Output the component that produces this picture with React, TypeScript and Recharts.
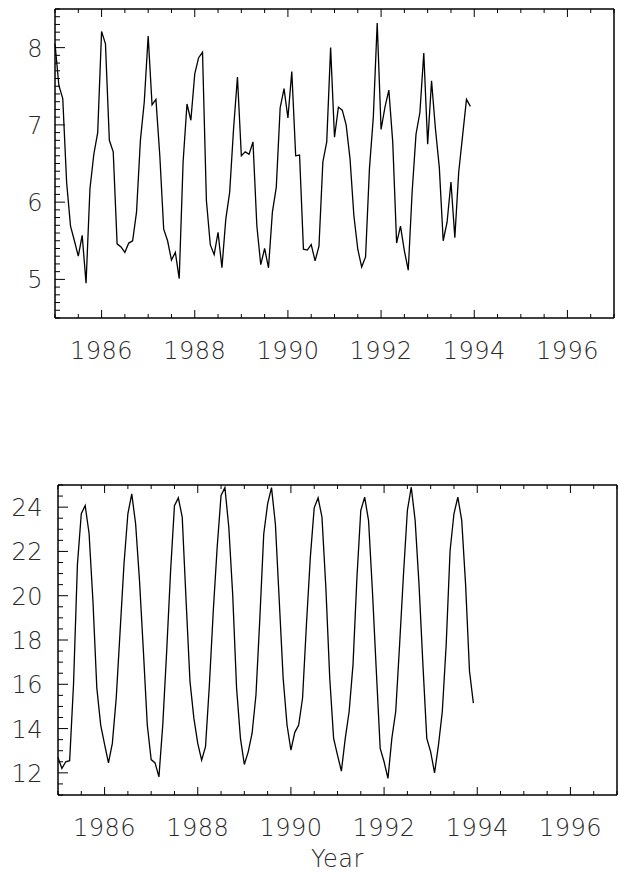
import { Line, LineChart, XAxis, YAxis } from 'recharts';

// monthly series, Jan 1985 .. Dec 1993
const startYear = 1985;

const upperValues = [
  8.05, 7.51, 7.34, 6.25, 5.69, 5.5, 5.3, 5.57, 4.95, 6.17, 6.62, 6.9,
  8.21, 8.05, 6.8, 6.65, 5.46, 5.42, 5.35, 5.47, 5.5, 5.87, 6.8, 7.3,
  8.15, 7.26, 7.33, 6.6, 5.65, 5.5, 5.25, 5.35, 5.01, 6.52, 7.27, 7.06,
  7.66, 7.87, 7.94, 6.02, 5.45, 5.32, 5.61, 5.15, 5.78, 6.13, 6.95, 7.62,
  6.6, 6.65, 6.62, 6.78, 5.69, 5.19, 5.4, 5.15, 5.87, 6.19, 7.22, 7.47,
  7.09, 7.69, 6.6, 6.61, 5.39, 5.38, 5.45, 5.24, 5.43, 6.52, 6.78, 8.0,
  6.84, 7.23, 7.19, 7.0, 6.56, 5.82, 5.39, 5.16, 5.29, 6.43, 7.1, 8.32,
  6.94, 7.23, 7.45, 6.78, 5.47, 5.69, 5.37, 5.12, 6.13, 6.88, 7.16, 7.93,
  6.75, 7.57, 6.95, 6.45, 5.5, 5.74, 6.26, 5.54, 6.39, 6.86, 7.33, 7.24,
];

const lowerValues = [
  12.7, 12.2, 12.5, 12.55, 16.0, 21.4, 23.7, 24.07, 22.82, 19.76, 15.83, 14.16,
  13.29, 12.45, 13.33, 15.38, 18.4, 21.43, 23.7, 24.6, 23.24, 20.67, 17.49, 14.16,
  12.6, 12.45, 11.82, 14.2, 17.5, 21.1, 24.07, 24.42, 23.55, 19.76, 16.13, 14.47,
  13.33, 12.57, 13.18, 15.98, 19.31, 22.18, 24.53, 24.88, 23.09, 20.06, 15.83, 13.56,
  12.38, 12.95, 13.79, 15.53, 19.0, 22.79, 24.15, 24.88, 23.24, 19.76, 16.28, 14.16,
  13.03, 13.83, 14.16, 15.38, 18.7, 21.73, 23.97, 24.42, 23.55, 20.37, 16.28, 13.56,
  12.8, 12.08, 13.56, 14.77, 16.9, 20.8, 23.85, 24.45, 23.39, 20.2, 16.6, 13.1,
  12.5, 11.75, 13.56, 14.77, 17.8, 20.97, 23.85, 24.9, 23.4, 20.5, 16.9, 13.56,
  12.95, 12.0, 13.24, 14.77, 17.8, 22.03, 23.7, 24.45, 23.4, 20.5, 16.6, 15.15,
];

const yearTicks = [
  1985, 1985.5, 1986, 1986.5, 1987, 1987.5, 1988, 1988.5, 1989, 1989.5, 1990, 1990.5,
  1991, 1991.5, 1992, 1992.5, 1993, 1993.5, 1994, 1994.5, 1995, 1995.5, 1996, 1996.5, 1997,
];
const yearLabels = [1986, 1988, 1990, 1992, 1994, 1996];

const upperLabels = [5, 6, 7, 8];
const lowerLabels = [12, 14, 16, 18, 20, 22, 24];

// minor tick steps: 0.1 on the upper axis, 0.5 on the lower one
const stepTicks = (lo: number, hi: number, step: number) => {
  const out: number[] = [];
  for (let v = lo; v <= hi + 1e-9; v += step) out.push(Math.round(v * 100) / 100);
  return out;
};
const upperTicks = stepTicks(4.5, 8.5, 0.1);
const lowerTicks = stepTicks(11, 25, 0.5);

const toRows = (vals: number[]) => vals.map((v, i) => ({ t: startYear + i / 12, v }));
const upperData = toRows(upperValues);
const lowerData = toRows(lowerValues);

const font = {
  fontFamily: "'DejaVu Sans', sans-serif",
  fontWeight: 200,
  fontSize: 24,
  letterSpacing: 0.5,
  fill: '#2a2a2a',
};

function XTick(props: any) {
  const { x, y, payload, dir, labelDy } = props;
  const major = yearLabels.includes(payload.value);
  const len = major ? 8 : 4;
  return (
    <g>
      <line x1={x} x2={x} y1={y} y2={y + dir * len} stroke="#000" strokeWidth={1} />
      {major && labelDy ? (
        <text x={x} y={y + labelDy} textAnchor="middle" dominantBaseline="central" {...font}>
          {payload.value}
        </text>
      ) : null}
    </g>
  );
}

function YTick(props: any) {
  const { x, y, payload, dir, labels, gap } = props;
  const major = labels.includes(payload.value);
  const len = major ? 10 : 5;
  return (
    <g>
      <line x1={x} x2={x + dir * len} y1={y} y2={y} stroke="#000" strokeWidth={1} />
      {major && gap ? (
        <text x={x - gap} y={y + 1} textAnchor="end" dominantBaseline="central" {...font}>
          {payload.value}
        </text>
      ) : null}
    </g>
  );
}

const axisLine = { stroke: '#000', strokeWidth: 1.5 };

function Panel(props: any) {
  const { data, domain, ticks, labels, top, height, margin, leftWidth, gap, xTitle } = props;
  return (
    <div style={{ position: 'absolute', left: 0, top }}>
      <LineChart width={618} height={height} data={data} margin={margin}>
        <XAxis
          xAxisId="b"
          dataKey="t"
          type="number"
          domain={[1985, 1997]}
          ticks={yearTicks}
          interval={0}
          height={1}
          tickSize={0}
          tickMargin={0}
          axisLine={axisLine}
          tickLine={false}
          tick={(p: any) => <XTick {...p} dir={-1} labelDy={33} />}
          label={
            xTitle
              ? { value: xTitle, position: 'bottom', offset: 54, ...font }
              : undefined
          }
        />
        <XAxis
          xAxisId="t"
          dataKey="t"
          type="number"
          orientation="top"
          domain={[1985, 1997]}
          ticks={yearTicks}
          interval={0}
          height={1}
          tickSize={0}
          tickMargin={0}
          axisLine={axisLine}
          tickLine={false}
          tick={(p: any) => <XTick {...p} dir={1} />}
        />
        <YAxis
          yAxisId="l"
          type="number"
          domain={domain}
          ticks={ticks}
          interval={0}
          width={leftWidth}
          tickSize={0}
          tickMargin={0}
          axisLine={axisLine}
          tickLine={false}
          tick={(p: any) => <YTick {...p} dir={1} labels={labels} gap={gap} />}
        />
        <YAxis
          yAxisId="r"
          orientation="right"
          type="number"
          domain={domain}
          ticks={ticks}
          interval={0}
          width={1}
          tickSize={0}
          tickMargin={0}
          axisLine={axisLine}
          tickLine={false}
          tick={(p: any) => <YTick {...p} dir={-1} labels={labels} />}
        />
        <Line
          xAxisId="b"
          yAxisId="l"
          type="linear"
          dataKey="v"
          stroke="#000"
          strokeWidth={1.3}
          dot={false}
          isAnimationActive={false}
        />
      </LineChart>
    </div>
  );
}

export default function App() {
  return (
    <div
      style={{
        position: 'absolute',
        left: 0,
        top: 0,
        width: 618,
        height: 875,
        background: '#fff',
        overflow: 'hidden',
      }}
    >
      <Panel
        data={upperData}
        domain={[4.5, 8.5]}
        ticks={upperTicks}
        labels={upperLabels}
        top={0}
        height={370}
        margin={{ top: 8, right: 3, bottom: 51, left: 0 }}
        leftWidth={55}
        gap={12}
      />
      <Panel
        data={lowerData}
        domain={[11, 25]}
        ticks={lowerTicks}
        labels={lowerLabels}
        top={470}
        height={405}
        margin={{ top: 14, right: 0, bottom: 79, left: 0 }}
        leftWidth={58}
        gap={15}
        xTitle="Year"
      />
    </div>
  );
}
